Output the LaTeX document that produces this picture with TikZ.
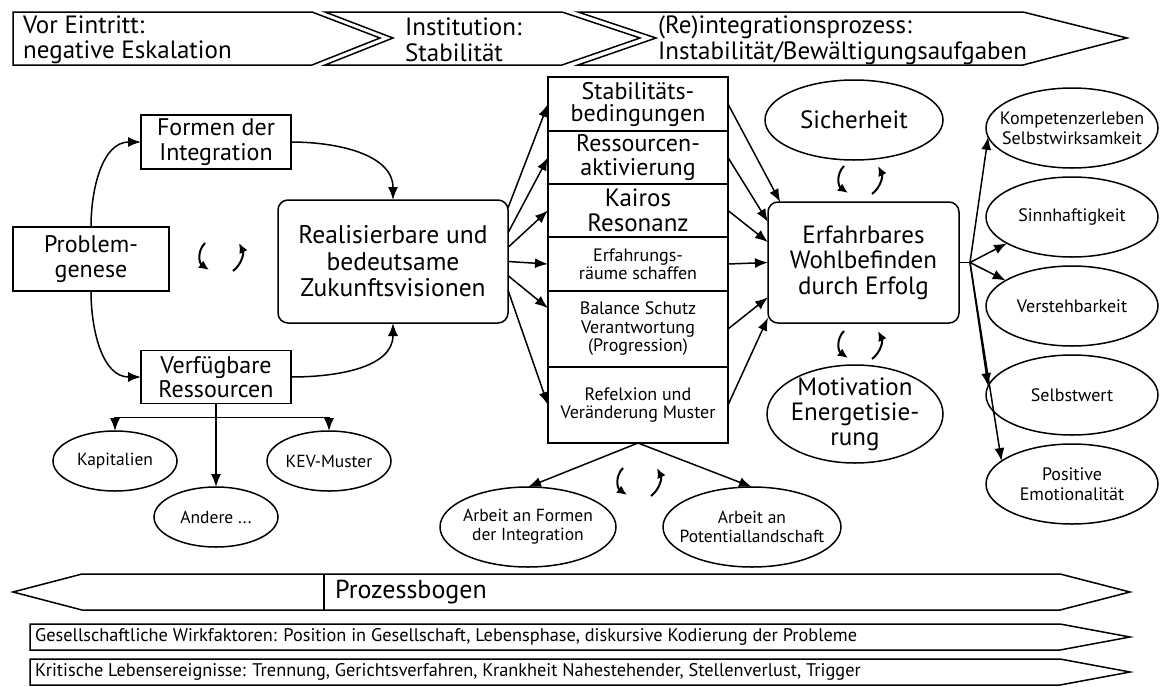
\documentclass[tikz,border=0pt]{standalone}
\usepackage{fontspec}
\setmainfont{PT Sans}
\usetikzlibrary{
	positioning,
	arrows.meta,
	shapes.geometric
}

\tikzset{
	box/.style={draw, line width=1.5pt, align=center, inner sep=0pt, outer sep=0pt},
	oval/.style={ellipse, draw, line width=1.5pt, inner sep=0pt, outer sep=0pt},
	bigtxt/.style={font=\fontsize{25}{25.5}\selectfont},
	midtxt/.style={font=\fontsize{24}{24.5}\selectfont},
	smalltxt/.style={font=\fontsize{18}{18.5}\selectfont},
	tinytxt/.style={font=\fontsize{17.5}{19}\selectfont},
	arr/.style={line width=1.5pt, -{Latex[length=13pt,width=10pt]}},
	tip/.style={line width=2pt, -{Latex[length=10pt,width=9pt]}},
	band/.style={draw, line width=1.5pt},
	every label/.style={align=center, inner sep=0pt},
	cycarr/.pic={
		\draw[tip] (-17,14) .. controls (-25,6) and (-23,-6) .. (-13,-13);
		\draw[tip] (11,-14) .. controls (20,-7) and (22,4) .. (17,14);
	}
}

\begin{document}
\begin{tikzpicture}[x=1pt,y=1pt]
	\useasboundingbox (0,0) rectangle (1162,-686);

	% phases on top
	\draw[band] (13,-12) -- (312,-12) -- (380,-38) -- (312,-65) -- (13,-65) -- cycle;
	\draw[band] (325,-12) -- (562,-12) -- (640,-38) -- (562,-65) -- (325,-65) -- (393,-38) -- cycle;
	\draw[band] (578,-12) -- (1023,-12) -- (1127,-38) -- (1023,-65) -- (578,-65) -- (656,-38) -- cycle;
	\node[anchor=west, align=left, inner sep=0pt, bigtxt] (vor) at (23,-40) {Vor Eintritt:\\negative Eskalation};
	\node[anchor=west, align=left, inner sep=0pt, bigtxt] (inst) at (405,-40) {Institution:\\Stabilität};
	\node[anchor=west, align=left, inner sep=0pt, bigtxt] (reint) at (658,-40) {(Re)integrationsprozess:\\Instabilität/Bewältigungsaufgaben};

	% left part
	\node[box, midtxt, minimum width=156, minimum height=64] (prob) at (91,-259) {Problem-\\genese};
	\node[box, midtxt, minimum width=150, minimum height=54] (form) at (216,-142) {Formen der\\Integration};
	\node[box, midtxt, minimum width=150, minimum height=53] (verf) at (216,-377) {Verfügbare\\Ressourcen};
	\node[box, rounded corners=10pt, minimum width=230, minimum height=123,
		font=\fontsize{25.5}{26.5}\selectfont] (real) at (393,-261.5) {Realisierbare und\\bedeutsame\\Zukunftsvisionen};

	\node[oval, minimum width=124, minimum height=60, label={[tinytxt]center:Kapitalien}] (kap) at (115,-461) {};
	\node[oval, minimum width=124, minimum height=60, label={[tinytxt]center:KEV-Muster}] (kev) at (329,-461) {};
	\node[oval, minimum width=124, minimum height=60, label={[tinytxt]center:Andere ...}] (andere) at (216,-517) {};
	\coordinate (bar) at ([yshift=-14pt]verf.south);

	\draw[arr] (prob.north) to[out=90,in=180] (form.west);
	\draw[arr] (prob.south) to[out=-90,in=180] (verf.west);
	\draw[arr] (form.east) to[out=0,in=90] (real.north);
	\draw[arr] (verf.east) to[out=0,in=-90] (real.south);
	\draw[arr] (verf.south) -- (andere.north);
	\draw[arr] (bar) -| (kap.north);
	\draw[arr] (bar) -| (kev.north);
	\pic at (222,-257) {cycarr};

	% middle column
	\node[box, minimum width=180, minimum height=54, font=\fontsize{24}{22}\selectfont] (stab) at (638,-104) {Stabilitäts-\\bedingungen};
	\node[box, minimum width=180, minimum height=53, below=0pt of stab, font=\fontsize{24}{24}\selectfont] (ress) {Ressourcen-\\aktivierung};
	\node[box, minimum width=180, minimum height=53, below=0pt of ress, font=\fontsize{25}{25}\selectfont] (kair) {Kairos\\Resonanz};
	\node[box, minimum width=180, minimum height=54, below=0pt of kair, smalltxt] (erfr) {Erfahrungs-\\räume schaffen};
	\node[box, minimum width=180, minimum height=76, below=0pt of erfr, smalltxt] (bala) {Balance Schutz\\Verantwortung\\(Progression)};
	\node[box, minimum width=180, minimum height=76, below=0pt of bala, smalltxt] (refl) {Refelxion und\\Veränderung Muster};

	\foreach \a/\t in {25/stab.west, 14/ress.west, 7/kair.west, 0/erfr.west, -7/bala.167, -14/refl.west}
		\draw[arr] (real.\a) -- (\t);

	\node[oval, minimum width=176, minimum height=80, label={[tinytxt]center:Arbeit an Formen\\der Integration}] (arbf) at (528,-527) {};
	\node[oval, minimum width=178, minimum height=80, label={[tinytxt]center:Arbeit an\\Potentiallandschaft}] (arbp) at (752,-527) {};
	\draw[arr] (refl.south) -- (arbf.north);
	\draw[arr] (refl.south) -- (arbp.north);
	\pic at (640,-482) {cycarr};

	% right part
	\node[box, bigtxt, rounded corners=10pt, minimum width=191, minimum height=121] (erf) at (863.5,-262.5) {Erfahrbares\\Wohlbefinden\\durch Erfolg};
	\node[oval, minimum width=178, minimum height=80, label={[bigtxt]center:Sicherheit}] (sich) at (854,-120) {};
	\node[oval, minimum width=176, minimum height=98, label={[font=\fontsize{25}{25}\selectfont]center:Motivation\\Energetisie-\\rung}] (moti) at (855,-414) {};
	\pic at (861,-180) {cycarr};
	\pic at (861,-345) {cycarr};

	\foreach \s/\a in {stab/144, ress/157, kair/168, erfr/180, bala/200, refl/210}
		\draw[arr] (\s.east) -- (erf.\a);

	\node[oval, minimum width=172, minimum height=80, label={[font=\fontsize{18}{20}\selectfont]center:Kompetenzerleben\\Selbstwirksamkeit}] (komp) at (1072,-128) {};
	\node[oval, minimum width=172, minimum height=80, below=9pt of komp, label={[smalltxt]center:Sinnhaftigkeit}] (sinn) {};
	\node[oval, minimum width=172, minimum height=80, below=9pt of sinn, label={[smalltxt]center:Verstehbarkeit}] (vers) {};
	\node[oval, minimum width=172, minimum height=80, below=9pt of vers, label={[smalltxt]center:Selbstwert}] (selb) {};
	\node[oval, minimum width=172, minimum height=80, below=9pt of selb, label={[font=\fontsize{18}{20}\selectfont]center:Positive\\Emotionalität}] (posi) {};

	\coordinate[right=11pt of erf] (hub);
	\draw[line width=1.5pt] (erf.east) -- (hub);
	\foreach \t/\a in {komp/186, sinn/202, vers/159, selb/174, posi/162}
		\draw[arr] (hub) -- (\t.\a);

	% bands at the bottom
	\draw[band] (13,-592) -- (82,-574) -- (1060,-574) -- (1130,-592) -- (1060,-610) -- (82,-610) -- cycle;
	\draw[band] (324,-574) -- (324,-610);
	\node[anchor=west, inner sep=0pt, font=\fontsize{26}{26}\selectfont] (bogen) at (335,-592) {Prozessbogen};
	\draw[band] (30,-624) -- (1060,-624) -- (1130,-637) -- (1060,-650) -- (30,-650) -- cycle;
	\node[anchor=west, inner sep=0pt, font=\fontsize{18.3}{19}\selectfont] (ges) at (35,-637) {Gesellschaftliche Wirkfaktoren: Position in Gesellschaft, Lebensphase, diskursive Kodierung der Probleme};
	\draw[band] (30,-659) -- (1060,-659) -- (1130,-672) -- (1060,-685) -- (30,-685) -- cycle;
	\node[anchor=west, inner sep=0pt, font=\fontsize{18.3}{19}\selectfont] (krit) at (35,-672) {Kritische Lebensereignisse: Trennung, Gerichtsverfahren, Krankheit Nahestehender, Stellenverlust, Trigger};
\end{tikzpicture}
\end{document}
